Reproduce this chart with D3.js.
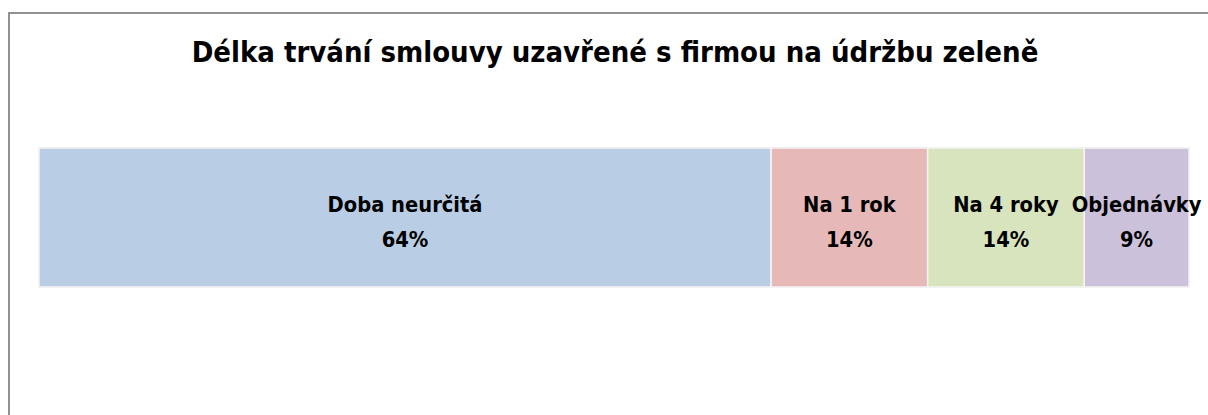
<!DOCTYPE html>
<html>
<head>
<meta charset="utf-8">
<script src="https://cdn.jsdelivr.net/npm/d3@7/dist/d3.min.js"></script>
<style>
  html, body { margin: 0; padding: 0; background: #fff; }
  svg { display: block; }
  text { font-family: "DejaVu Sans Condensed", "DejaVu Sans", Verdana, sans-serif; font-stretch: condensed; font-weight: bold; fill: #000; }
</style>
</head>
<body>
<div id="theChart"></div>
<script>
const title = "Délka trvání smlouvy uzavřené s firmou na údržbu zeleně"
const categories = ["Doba neurčitá", "Na 1 rok", "Na 4 roky", "Objednávky"]
const shares = [0.636, 0.136, 0.136, 0.091]
const colors = ["#b9cde5", "#e6b9b8", "#d7e4bd", "#ccc1da"]

const w = 1208
const h = 415

const svg = d3
	.select("#theChart")
	.append("svg")
	.attr("width", w)
	.attr("height", h)

// chart frame (cropped on the right and bottom)
svg.append("rect")
	.attr("x", 9)
	.attr("y", 13)
	.attr("width", 1400)
	.attr("height", 600)
	.attr("fill", "none")
	.attr("stroke", "#868686")
	.attr("stroke-width", 1.8)

svg.append("text")
	.attr("x", 615)
	.attr("y", 62)
	.attr("text-anchor", "middle")
	.style("font-size", "29px")
	.text(title)

// stack the shares
let acc = 0
const stacked = shares.map((s, i) => {
	const d = { name: categories[i], value: s, x0: acc, x1: acc + s, color: colors[i] }
	acc += s
	return d
})

const xScale = d3.scaleLinear().domain([0, d3.sum(shares)]).range([39, 1189])
const yScale = d3.scaleBand().domain(["all"]).range([148, 287]).padding(0)

const bar = svg.append("g")

bar.append("rect")
	.attr("x", xScale(0) - 1)
	.attr("y", yScale("all") - 1)
	.attr("width", xScale(d3.sum(shares)) - xScale(0) + 2)
	.attr("height", yScale.bandwidth() + 2)
	.attr("fill", "#ededed")

bar.selectAll("rect.seg")
	.data(stacked)
	.enter()
	.append("rect")
	.attr("class", "seg")
	.attr("x", d => xScale(d.x0))
	.attr("y", yScale("all"))
	.attr("width", d => xScale(d.x1) - xScale(d.x0))
	.attr("height", yScale.bandwidth())
	.attr("fill", d => d.color)
	.attr("stroke", "#f4f4f4")
	.attr("stroke-width", 1.5)

const pct = d3.format(".0%")
const cy = yScale("all") + yScale.bandwidth() / 2

const labels = bar.selectAll("text.lbl")
	.data(stacked)
	.enter()
	.append("text")
	.attr("class", "lbl")
	.attr("text-anchor", "middle")
	.style("font-size", "21.7px")

labels.append("tspan")
	.attr("x", d => (xScale(d.x0) + xScale(d.x1)) / 2)
	.attr("y", cy - 6)
	.text(d => d.name)

labels.append("tspan")
	.attr("x", d => (xScale(d.x0) + xScale(d.x1)) / 2)
	.attr("y", cy + 29)
	.text(d => pct(d.value))
</script>
</body>
</html>
